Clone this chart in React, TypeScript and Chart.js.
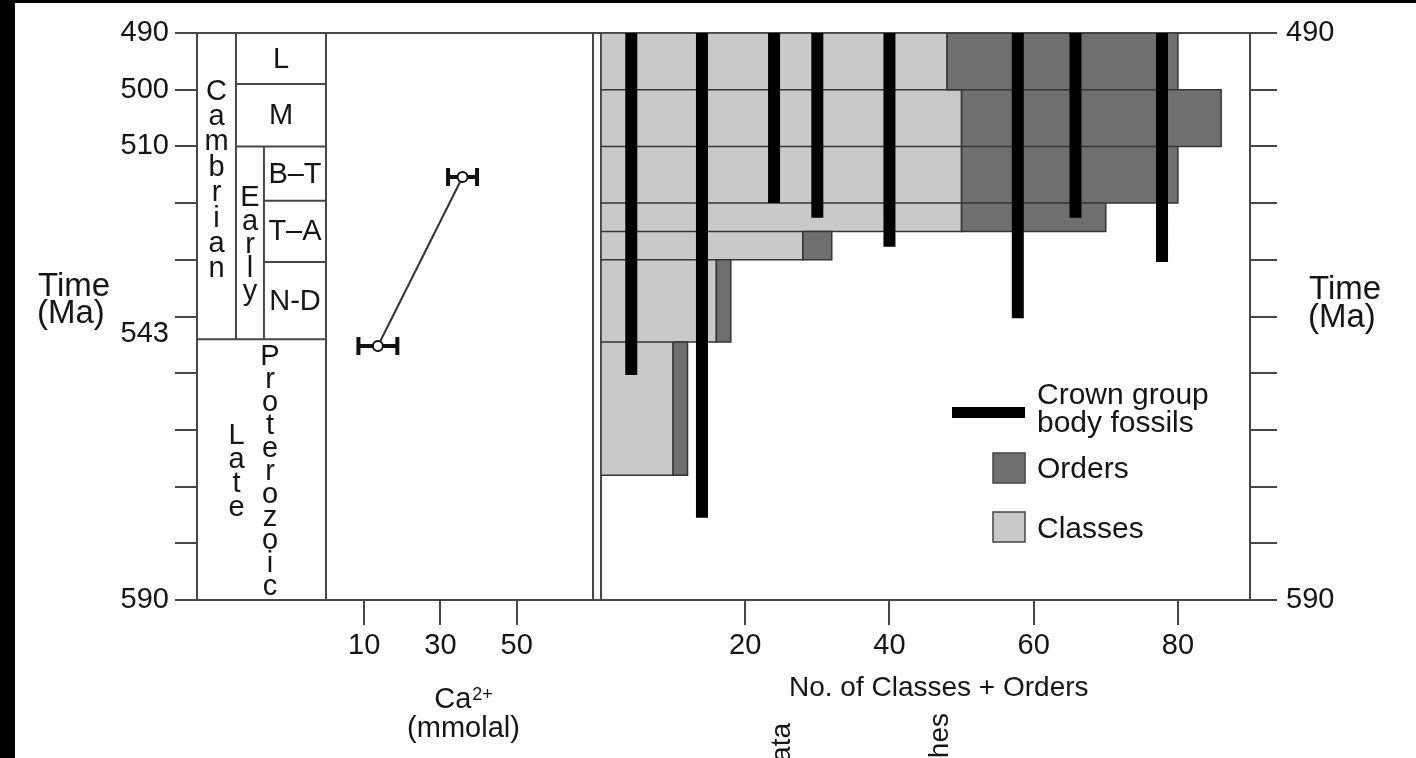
import React, { useEffect, useRef } from 'react';
import { Chart, registerables } from 'chart.js';

Chart.register(...registerables);

const FONT = '"Liberation Sans", Arial, Helvetica, sans-serif';
const INK = '#151515';
const FRAME = '#474747';
const CLASS_FILL = '#c9c9c9';
const ORDER_FILL = '#6f6f6f';
const BAR_EDGE = '#353535';

// ---------------- data ----------------
const timeMin = 490;
const timeMax = 590;
const leftTimeTicks = [490, 500, 510, 520, 530, 540, 543, 550, 560, 570, 580, 590];
const leftTimeLabels = [490, 500, 510, 543, 590];
const rightTimeTicks = [490, 500, 510, 520, 530, 540, 550, 560, 570, 580, 590];
const rightTimeLabels = [490, 590];

// Ca2+ (mmolal)
const caTicks = [10, 30, 50];
const caAge = [545.2, 515.4];
const caValue = [13.6, 35.8];
const caError = [5.1, 3.8];

// No. of classes + orders
const countTicks = [20, 40, 60, 80];
const rowTop = [490, 500, 510, 520, 525, 530, 544.5];
const rowBase = [500, 510, 520, 525, 530, 544.5, 568];
const classCounts = [48, 50, 50, 50, 28, 16, 10];
const orderCounts = [32, 36, 30, 20, 4, 2, 2];

// Crown group body fossils
const crownX = [4.2, 14, 24, 30, 40, 57.8, 65.8, 77.8];
const crownTop = 490;
const crownBase = [550.3, 575.5, 520, 522.6, 527.7, 540.3, 522.6, 530.4];

// stratigraphic column
const stageNames = ['L', 'M', 'B–T', 'T–A', 'N-D'];
const stageTop = [490, 499, 510, 519.6, 530.4];
const stageBase = [499, 510, 519.6, 530.4, 544];
const cambrianTop = 490;
const cambrianBase = 544;
const earlyTop = 510;
const periodLabel = 'Cambrian';
const epochLabel = 'Early';
const lateLabel = 'Late';
const proteroLabel = 'Proterozoic';

// legend / titles
const legendCrown = ['Crown group', 'body fossils'];
const legendOrders = 'Orders';
const legendClasses = 'Classes';
const timeTitle = ['Time', '(Ma)'];
const countTitle = 'No. of Classes + Orders';
const caTitle = ['Ca', '2+', '(mmolal)'];
const cutLabels = ['ata', 'hes'];

// ---------------- derived dataset tables ----------------
const GAP = { x: null, y: null };
const classesData = rowTop.flatMap((t, i) => [
  { x: 0, y: t },
  { x: classCounts[i], y: t },
  { x: classCounts[i], y: rowBase[i] },
  { x: 0, y: rowBase[i] },
  { x: 0, y: t },
  GAP,
]);
const ordersData = rowTop.flatMap((t, i) => {
  const a = classCounts[i];
  const b = classCounts[i] + orderCounts[i];
  return [
    { x: a, y: t },
    { x: b, y: t },
    { x: b, y: rowBase[i] },
    { x: a, y: rowBase[i] },
    { x: a, y: t },
    GAP,
  ];
});
const crownData = crownX.flatMap((x, i) => [{ x, y: crownTop }, { x, y: crownBase[i] }, GAP]);
const caData = caValue.map((v, i) => ({ x: v, y: caAge[i] }));
const caErrData = caValue.flatMap((v, i) => [
  { x: v - caError[i], y: caAge[i] },
  { x: v + caError[i], y: caAge[i] },
  GAP,
]);

// column split inside the stratigraphic strip (fractions of its width)
const stratColEdges = [0.302, 0.519];

const overlayPlugin = {
  id: 'overlay',
  beforeDraw(chart: any) {
    const { ctx, width, height } = chart;
    ctx.save();
    ctx.fillStyle = '#fff';
    ctx.fillRect(0, 0, width, height);
    ctx.restore();
  },
  beforeDatasetsDraw(chart: any) {
    const { ctx } = chart;
    const y = chart.scales.y;
    const xS = chart.scales.xS;
    const xCa = chart.scales.xCa;
    const xN = chart.scales.xN;
    const py = (v: number) => y.getPixelForValue(v);
    ctx.save();
    ctx.strokeStyle = FRAME;
    ctx.lineWidth = 2;
    const vl = (x: number, a: number, b: number) => {
      ctx.beginPath();
      ctx.moveTo(x, py(a));
      ctx.lineTo(x, py(b));
      ctx.stroke();
    };
    const hl = (t: number, x1: number, x2: number) => {
      ctx.beginPath();
      ctx.moveTo(x1, py(t));
      ctx.lineTo(x2, py(t));
      ctx.stroke();
    };
    vl(xCa.left, timeMin, timeMax);
    vl(xCa.right, timeMin, timeMax);
    vl(xN.left, timeMin, timeMax);

    const c0 = xS.left;
    const c1 = xS.getPixelForValue(stratColEdges[0]);
    const c2 = xS.getPixelForValue(stratColEdges[1]);
    const c3 = xS.right;
    vl(c1, cambrianTop, cambrianBase);
    vl(c2, earlyTop, cambrianBase);
    hl(cambrianBase, c0, c3);
    stageTop.forEach((t) => {
      if (t > timeMin) hl(t, t <= earlyTop ? c1 : c2, c3);
    });

    // labels
    ctx.fillStyle = INK;
    ctx.font = `29px ${FONT}`;
    ctx.textAlign = 'center';
    ctx.textBaseline = 'middle';
    stageNames.forEach((n, i) => {
      const x1 = stageTop[i] < earlyTop ? c1 : c2;
      ctx.fillText(n, (x1 + c3) / 2, (py(stageTop[i]) + py(stageBase[i])) / 2 + 1);
    });
    ctx.textBaseline = 'alphabetic';
    const capH = 29 * 0.716;
    const stack = (text: string, cx: number, cy: number, step: number) => {
      const n = text.length;
      const b0 = cy + capH / 2 - ((n - 1) * step) / 2;
      for (let i = 0; i < n; i++) ctx.fillText(text[i], cx, b0 + i * step);
    };
    stack(periodLabel, (c0 + c1) / 2, (py(cambrianTop) + py(cambrianBase)) / 2 - 8, 25.4);
    stack(epochLabel, (c1 + c2) / 2, (py(earlyTop) + py(cambrianBase)) / 2, 23.5);
    const lpMid = (py(cambrianBase) + py(timeMax)) / 2;
    const lpCx = (c0 + c3) / 2;
    stack(lateLabel, lpCx - 25, lpMid, 24.3);
    stack(proteroLabel, lpCx + 8.5, lpMid, 23);
    ctx.restore();
  },
  afterDraw(chart: any) {
    const { ctx } = chart;
    ctx.save();
    ctx.fillStyle = INK;
    ctx.textBaseline = 'alphabetic';

    // Time (Ma) labels
    ctx.font = `33px ${FONT}`;
    ctx.textAlign = 'left';
    ctx.fillText(timeTitle[0], 38, 296);
    ctx.fillText(timeTitle[1], 37, 323);
    ctx.fillText(timeTitle[0], 1309, 299);
    ctx.fillText(timeTitle[1], 1308, 327);

    // Ca title
    const xCa = chart.scales.xCa;
    const caMid = (xCa.left + xCa.right) / 2 + 4;
    ctx.font = `29px ${FONT}`;
    const wCa = ctx.measureText(caTitle[0]).width;
    ctx.font = `18px ${FONT}`;
    const wSup = ctx.measureText(caTitle[1]).width;
    const sx = caMid - (wCa + wSup + 1) / 2;
    ctx.font = `29px ${FONT}`;
    ctx.textAlign = 'left';
    ctx.fillText(caTitle[0], sx, 708);
    ctx.font = `18px ${FONT}`;
    ctx.fillText(caTitle[1], sx + wCa + 1, 700);
    ctx.font = `29px ${FONT}`;
    ctx.textAlign = 'center';
    ctx.fillText(caTitle[2], caMid, 737);

    // count title
    ctx.font = `28px ${FONT}`;
    ctx.textAlign = 'left';
    ctx.fillText(countTitle, 789, 696);

    // cut-off rotated labels at the bottom
    ctx.font = `28px ${FONT}`;
    const cut = (t: string, bx: number, yTop: number) => {
      ctx.save();
      ctx.translate(bx, yTop);
      ctx.rotate(-Math.PI / 2);
      ctx.textAlign = 'right';
      ctx.fillText(t, 0, 0);
      ctx.restore();
    };
    cut(cutLabels[0], 790, 723);
    cut(cutLabels[1], 948, 713);

    // legend
    ctx.fillStyle = '#000';
    ctx.fillRect(952, 407, 73, 11);
    ctx.lineWidth = 1.5;
    ctx.strokeStyle = '#444';
    ctx.fillStyle = ORDER_FILL;
    ctx.fillRect(993, 453, 32, 30);
    ctx.strokeRect(993, 453, 32, 30);
    ctx.fillStyle = CLASS_FILL;
    ctx.fillRect(993, 512, 32, 30);
    ctx.strokeRect(993, 512, 32, 30);
    ctx.fillStyle = INK;
    ctx.font = `30px ${FONT}`;
    ctx.textAlign = 'left';
    ctx.fillText(legendCrown[0], 1037, 404);
    ctx.fillText(legendCrown[1], 1037, 432);
    ctx.fillText(legendOrders, 1037, 478);
    ctx.fillText(legendClasses, 1037, 538);
    ctx.restore();
  },
};

const tickFont = { family: FONT, size: 29 };

export default function App() {
  const ref = useRef<HTMLCanvasElement | null>(null);

  useEffect(() => {
    if (!ref.current) return;
    Chart.defaults.font.family = FONT;
    const chart = new Chart(ref.current, {
      type: 'line',
      data: {
        datasets: [
          {
            label: 'Crown group body fossils',
            data: crownData,
            xAxisID: 'xN',
            yAxisID: 'y',
            borderColor: '#000',
            borderWidth: 12,
            borderCapStyle: 'butt',
            pointRadius: 0,
            spanGaps: false,
            fill: false,
            order: 0,
          },
          {
            label: 'Ca',
            data: caData,
            xAxisID: 'xCa',
            yAxisID: 'y',
            borderColor: '#333',
            borderWidth: 2,
            pointRadius: 5,
            pointBackgroundColor: '#fff',
            pointBorderColor: '#111',
            pointBorderWidth: 2,
            fill: false,
            order: 1,
          },
          {
            label: 'Ca error',
            data: caErrData,
            xAxisID: 'xCa',
            yAxisID: 'y',
            borderColor: '#111',
            borderWidth: 4,
            pointStyle: 'line',
            rotation: 90,
            pointRadius: 9,
            pointBorderWidth: 4,
            pointBorderColor: '#111',
            spanGaps: false,
            fill: false,
            order: 2,
          },
          {
            label: 'Orders',
            data: ordersData,
            xAxisID: 'xN',
            yAxisID: 'y',
            borderColor: BAR_EDGE,
            borderWidth: 1.5,
            backgroundColor: ORDER_FILL,
            fill: 'shape',
            pointRadius: 0,
            spanGaps: false,
            order: 3,
          },
          {
            label: 'Classes',
            data: classesData,
            xAxisID: 'xN',
            yAxisID: 'y',
            borderColor: BAR_EDGE,
            borderWidth: 1.5,
            backgroundColor: CLASS_FILL,
            fill: 'shape',
            pointRadius: 0,
            spanGaps: false,
            order: 4,
          },
        ],
      },
      options: {
        animation: false,
        responsive: false,
        maintainAspectRatio: false,
        events: [],
        layout: { padding: { top: 33, left: 0, right: 0, bottom: 0 } },
        plugins: { legend: { display: false }, tooltip: { enabled: false }, title: { display: false } },
        scales: {
          y: {
            type: 'linear',
            position: 'left',
            min: timeMin,
            max: timeMax,
            reverse: true,
            afterBuildTicks: (s: any) => {
              s.ticks = leftTimeTicks.map((v) => ({ value: v }));
            },
            afterFit: (s: any) => {
              s.width = 197;
            },
            ticks: {
              autoSkip: false,
              font: tickFont,
              color: INK,
              padding: 6,
              callback: (v: any) => (leftTimeLabels.includes(Number(v)) ? String(v) : ''),
            },
            grid: {
              drawOnChartArea: true,
              lineWidth: 2,
              color: (c: any) => (c.tick && (c.tick.value === timeMin || c.tick.value === timeMax) ? FRAME : 'rgba(0,0,0,0)'),
              tickLength: 22,
              tickWidth: 2,
              tickColor: (c: any) => (c.tick && c.tick.value === 543 ? 'rgba(0,0,0,0)' : FRAME),
            },
            border: { display: true, color: FRAME, width: 2 },
          },
          yR: {
            type: 'linear',
            position: 'right',
            min: timeMin,
            max: timeMax,
            reverse: true,
            afterBuildTicks: (s: any) => {
              s.ticks = rightTimeTicks.map((v) => ({ value: v }));
            },
            afterFit: (s: any) => {
              s.width = 166;
            },
            ticks: {
              autoSkip: false,
              font: tickFont,
              color: INK,
              padding: 9,
              callback: (v: any) => (rightTimeLabels.includes(Number(v)) ? String(v) : ''),
            },
            grid: { drawOnChartArea: false, tickLength: 27, tickWidth: 2, tickColor: FRAME, lineWidth: 2, color: FRAME },
            border: { display: true, color: FRAME, width: 2 },
          },
          xS: {
            type: 'linear',
            position: 'bottom',
            stack: 'bottom',
            stackWeight: 129,
            min: 0,
            max: 1,
            afterFit: (s: any) => {
              s.height = 158;
            },
            ticks: { display: false },
            grid: { display: false },
            border: { display: false },
          },
          xCa: {
            type: 'linear',
            position: 'bottom',
            stack: 'bottom',
            stackWeight: 267,
            min: 0,
            max: 70,
            afterBuildTicks: (s: any) => {
              s.ticks = caTicks.map((v) => ({ value: v }));
            },
            afterFit: (s: any) => {
              s.height = 158;
            },
            ticks: { autoSkip: false, font: tickFont, color: INK, padding: 4, maxRotation: 0 },
            grid: { drawOnChartArea: false, tickLength: 25, tickWidth: 2, tickColor: FRAME, lineWidth: 2, color: FRAME },
            border: { display: false },
          },
          xG: {
            type: 'linear',
            position: 'bottom',
            stack: 'bottom',
            stackWeight: 8,
            min: 0,
            max: 1,
            afterFit: (s: any) => {
              s.height = 158;
            },
            ticks: { display: false },
            grid: { display: false },
            border: { display: false },
          },
          xN: {
            type: 'linear',
            position: 'bottom',
            stack: 'bottom',
            stackWeight: 649,
            min: 0,
            max: 90,
            afterBuildTicks: (s: any) => {
              s.ticks = countTicks.map((v) => ({ value: v }));
            },
            afterFit: (s: any) => {
              s.height = 158;
            },
            ticks: { autoSkip: false, font: tickFont, color: INK, padding: 4, maxRotation: 0 },
            grid: { drawOnChartArea: false, tickLength: 25, tickWidth: 2, tickColor: FRAME, lineWidth: 2, color: FRAME },
            border: { display: false },
          },
        },
      } as any,
      plugins: [overlayPlugin],
    } as any);
    return () => chart.destroy();
  }, []);

  return (
    <div style={{ position: 'fixed', left: 0, top: 0, width: 1416, height: 758, background: '#fff', overflow: 'hidden' }}>
      <canvas ref={ref} width={1416} height={758} style={{ display: 'block', width: 1416, height: 758 }} />
      <div style={{ position: 'absolute', left: 0, top: 0, width: 15, height: 758, background: '#000' }} />
      <div style={{ position: 'absolute', left: 0, top: 0, width: 1416, height: 3, background: '#000' }} />
    </div>
  );
}
